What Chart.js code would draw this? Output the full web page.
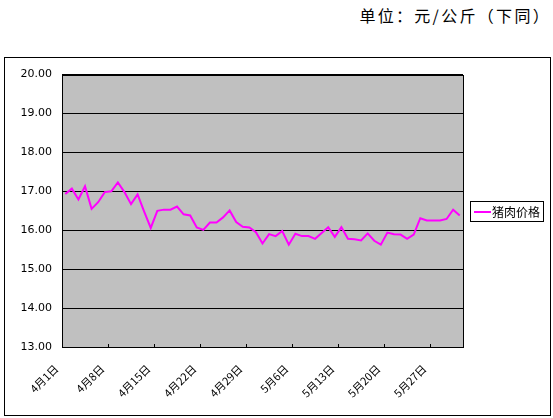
<!DOCTYPE html>
<html>
<head>
    <title>猪肉价格</title>
    <script src="https://cdn.jsdelivr.net/npm/chart.js"></script>
    <style>
        body { margin: 0; background: #fff; font-family: "Noto Sans CJK SC", sans-serif; }
        .unit {
            position: absolute; top: 3px; right: 2px;
            font-size: 16px; letter-spacing: 2.3px; color: #000;
        }
        .box {
            position: absolute; left: 4px; top: 57px;
            width: 547px; height: 359px;
            border: 1px solid #000; box-sizing: border-box;
        }
        canvas { display: block; }
    </style>
</head>
<body>
    <div class="unit">单位：元/公斤（下同）</div>
    <div class="box">
        <canvas id="priceChart" width="545" height="357"></canvas>
    </div>

    <script>
        // April 1 - May 31, one value per day
        const months = [4, 5];
        const daysInMonth = [30, 31];
        const seriesName = '猪肉价格';
        const prices = [
            16.93, 17.07, 16.79, 17.13, 16.55, 16.72, 16.98, 17.00, 17.23, 16.98,
            16.67, 16.92, 16.48, 16.06, 16.50, 16.53, 16.53, 16.61, 16.41, 16.38,
            16.07, 16.01, 16.20, 16.20, 16.33, 16.51, 16.21, 16.09, 16.07, 15.95,
            15.66, 15.90, 15.85, 15.98, 15.63, 15.91, 15.85, 15.85, 15.78, 15.93,
            16.08, 15.83, 16.08, 15.78, 15.77, 15.74, 15.92, 15.73, 15.63, 15.94,
            15.90, 15.89, 15.78, 15.89, 16.31, 16.25, 16.25, 16.25, 16.29, 16.53,
            16.38
        ];
        const yMin = 13, yMax = 20, yStep = 1;
        const labelEvery = 7;

        const labels = [];
        months.forEach((m, k) => {
            for (let d = 1; d <= daysInMonth[k]; d++) labels.push(m + '月' + d + '日');
        });

        // grey plot area + border + inner tick marks every 7 days + boxed legend
        const plotFrame = {
            id: 'plotFrame',
            beforeDraw(chart) {
                const a = chart.chartArea, ctx = chart.ctx;
                ctx.save();
                ctx.fillStyle = '#C0C0C0';
                ctx.fillRect(a.left, a.top, a.right - a.left, a.bottom - a.top);
                ctx.restore();
            },
            afterDraw(chart) {
                const a = chart.chartArea, ctx = chart.ctx, x = chart.scales.x;
                ctx.save();
                ctx.strokeStyle = '#000';
                ctx.lineWidth = 1;
                ctx.strokeRect(Math.round(a.left) + 0.5, Math.round(a.top) + 0.5,
                    Math.round(a.right - a.left), Math.round(a.bottom - a.top));
                ctx.beginPath();
                for (let i = labelEvery; i < labels.length; i += labelEvery) {
                    const px = Math.round((x.getPixelForTick(i - 1) + x.getPixelForTick(i)) / 2) + 0.5;
                    ctx.moveTo(px, a.bottom);
                    ctx.lineTo(px, a.bottom - 3);
                }
                ctx.stroke();

                // legend
                const ds = chart.data.datasets[0];
                const lx = Math.round(a.right) + 7, ly = Math.round((a.top + a.bottom) / 2) - 10;
                ctx.strokeRect(lx + 0.5, ly + 0.5, 73, 20);
                ctx.strokeStyle = ds.borderColor;
                ctx.lineWidth = 2;
                ctx.beginPath();
                ctx.moveTo(lx + 4, ly + 11);
                ctx.lineTo(lx + 21, ly + 11);
                ctx.stroke();
                ctx.fillStyle = '#000';
                ctx.font = '12px "Noto Sans CJK SC"';
                ctx.textBaseline = 'middle';
                ctx.fillText(ds.label, lx + 22, ly + 11);
                ctx.restore();
            }
        };

        new Chart(document.getElementById('priceChart'), {
            type: 'line',
            data: {
                labels: labels,
                datasets: [{
                    label: seriesName,
                    data: prices,
                    borderColor: '#FF00FF',
                    borderWidth: 2,
                    pointRadius: 0,
                    tension: 0,
                    fill: false
                }]
            },
            options: {
                responsive: false,
                animation: false,
                layout: { padding: { top: 16, right: 87, left: 0, bottom: 0 } },
                plugins: {
                    legend: { display: false },
                    tooltip: { enabled: false }
                },
                scales: {
                    x: {
                        offset: true,
                        grid: { display: false },
                        border: { display: false },
                        ticks: {
                            autoSkip: false,
                            minRotation: 45,
                            maxRotation: 45,
                            padding: 7,
                            labelOffset: -9,
                            color: '#000',
                            font: { size: 11, family: '"Noto Sans CJK SC"' },
                            callback: (v, i) => i % labelEvery === 0 ? labels[i] : ''
                        },
                        afterFit: s => { s.height = 68; }
                    },
                    y: {
                        min: yMin,
                        max: yMax,
                        grid: { color: '#000', drawTicks: false },
                        border: { display: false },
                        ticks: {
                            stepSize: yStep,
                            padding: 10,
                            color: '#000',
                            font: { size: 11, family: '"DejaVu Sans"' },
                            callback: v => v.toFixed(2)
                        },
                        afterFit: s => { s.width = 57; }
                    }
                }
            },
            plugins: [plotFrame]
        });
    </script>
</body>
</html>
